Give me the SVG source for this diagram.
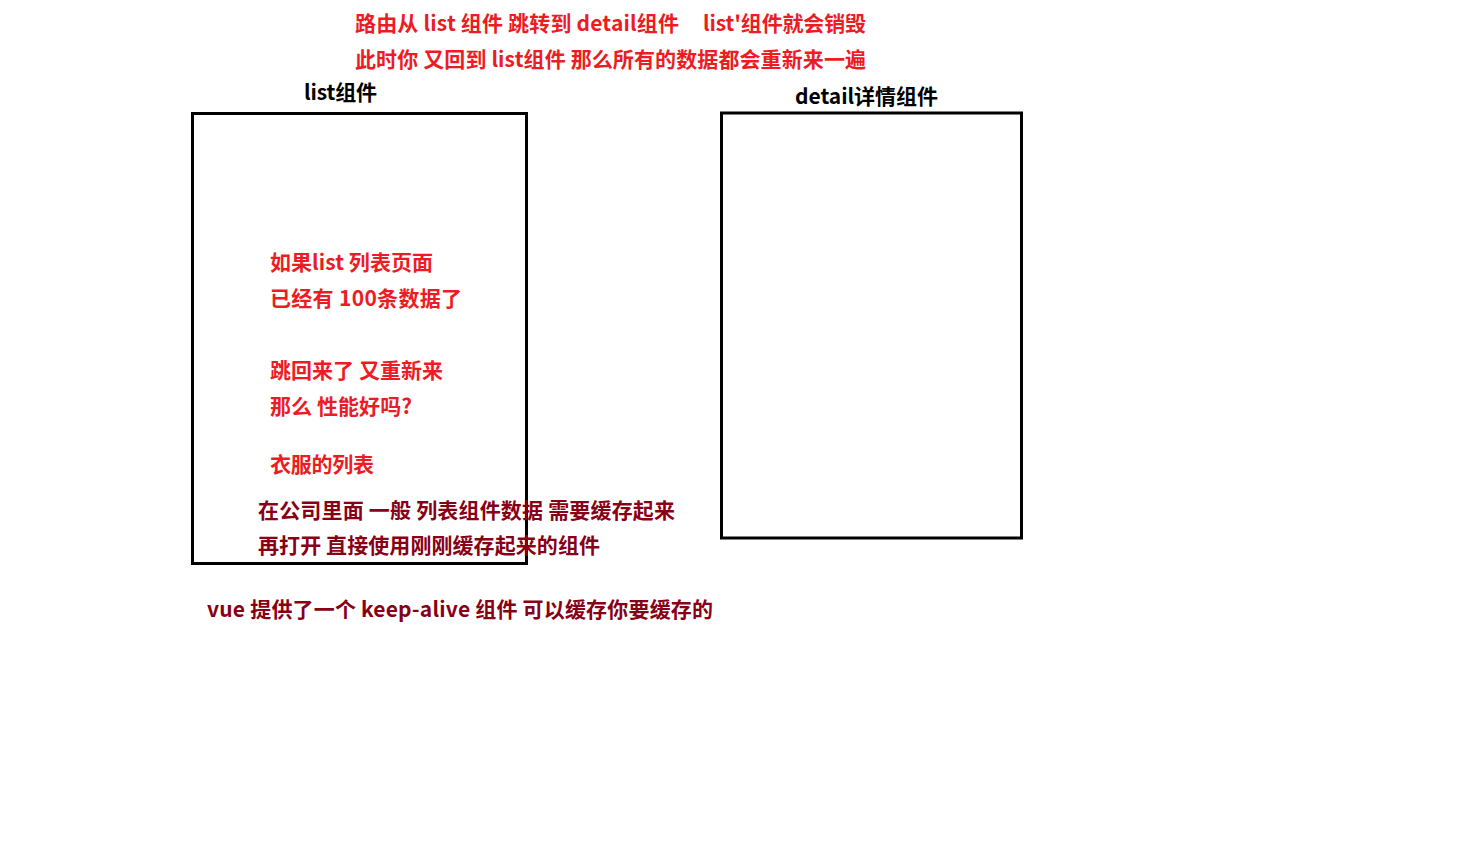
<svg xmlns="http://www.w3.org/2000/svg" width="1476" height="864" viewBox="0 0 1476 864">
<style>
text{font-family:"Microsoft YaHei","Noto Sans CJK SC",sans-serif;font-weight:bold;font-size:21px;white-space:pre}
.red{fill:#ED1C24}
.dark{fill:#880015}
.blk{fill:#000}
.box{fill:none;stroke:#000;stroke-width:3}
</style>
<rect width="1476" height="864" fill="#fff"/>
<g id="list-node">
<rect class="box" x="192.5" y="113.5" width="334" height="450"/>
<text class="blk" x="304" y="100" textLength="73" lengthAdjust="spacing">list组件</text>
</g>
<g id="detail-node">
<rect class="box" x="721.5" y="113" width="300" height="425"/>
<text class="blk" x="795" y="104" textLength="143" lengthAdjust="spacing">detail详情组件</text>
</g>
<g id="connectors"></g>
<g id="notes-top">
<text class="red" x="355" y="31" textLength="324" lengthAdjust="spacing">路由从 list 组件 跳转到 detail组件</text>
<text class="red" x="703" y="31" textLength="163" lengthAdjust="spacing">list'组件就会销毁</text>
<text class="red" x="355" y="67" textLength="511" lengthAdjust="spacing">此时你 又回到 list组件 那么所有的数据都会重新来一遍</text>
</g>
<g id="notes-list">
<text class="red" x="270" y="270" textLength="163" lengthAdjust="spacing">如果list 列表页面</text>
<text class="red" x="270" y="306" textLength="192" lengthAdjust="spacing">已经有 100条数据了</text>
<text class="red" x="270" y="378" textLength="173" lengthAdjust="spacing">跳回来了 又重新来</text>
<text class="red" x="270" y="414" textLength="142" lengthAdjust="spacing">那么 性能好吗?</text>
<text class="red" x="270" y="472" textLength="104" lengthAdjust="spacing">衣服的列表</text>
</g>
<g id="notes-cache">
<text class="dark" x="258" y="518" textLength="417" lengthAdjust="spacing">在公司里面 一般 列表组件数据 需要缓存起来</text>
<text class="dark" x="258" y="553" textLength="342" lengthAdjust="spacing">再打开 直接使用刚刚缓存起来的组件</text>
<text class="dark" x="207" y="617" textLength="506" lengthAdjust="spacing">vue 提供了一个 keep-alive 组件 可以缓存你要缓存的</text>
</g>
</svg>
